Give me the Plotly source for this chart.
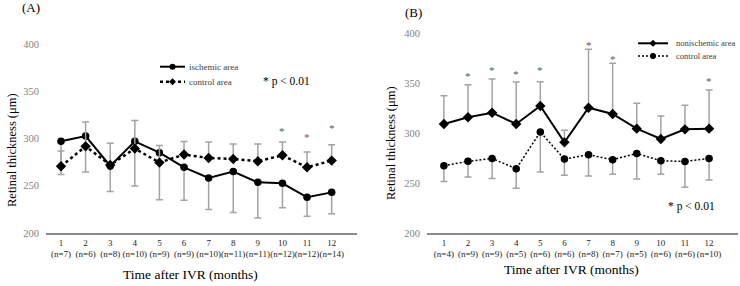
import plotly.graph_objects as go

# ---------------- data ----------------
months = [1, 2, 3, 4, 5, 6, 7, 8, 9, 10, 11, 12]

# Panel A
n_a = [7, 6, 8, 10, 9, 9, 10, 11, 11, 12, 12, 14]
ischemic_mean = [297, 302.6, 271, 297, 285, 269.5, 258.2, 265, 253.6, 252.6, 237.8, 243]
ischemic_sd = [35, 38, 27, 47.3, 49.7, 34.9, 33.2, 43.4, 37.7, 25.8, 20.1, 22.5]
control_a_mean = [270.6, 291.7, 272, 289.3, 274.5, 283, 279.4, 278.3, 275.9, 282.2, 269.5, 276.6]
control_a_sd = [16.2, 25.8, 23, 29.7, 18, 13.7, 16.9, 15.9, 18.3, 14.1, 16.2, 16.9]
sig_a_months = [10, 11, 12]
sig_a_y = [309.7, 303.4, 313]

# Panel B
n_b = [4, 9, 9, 5, 6, 6, 8, 7, 5, 6, 6, 10]
nonisch_mean = [309.2, 315.9, 320.5, 309.2, 327.2, 290.8, 325.5, 319.2, 304.5, 294.1, 303.8, 304.5]
nonisch_sd = [28.3, 32.6, 33.7, 42, 24.3, 12.1, 58.5, 50.8, 25.4, 23.1, 24.1, 38.7]
control_b_mean = [267.3, 271.8, 274.6, 264.4, 301.2, 274, 278.4, 273.4, 279.6, 272.4, 271.6, 274.6]
control_b_sd = [15.6, 15.8, 20, 19.5, 40.2, 16.2, 21.3, 14.6, 25.5, 13.6, 25.8, 21.5]
sig_b_months = [2, 3, 4, 5, 7, 8, 12]
sig_b_y = [358.9, 365.5, 361.5, 365.5, 390, 376, 354]

y_ticks = [200, 250, 300, 350, 400]

# ---------------- styling ----------------
W, H = 740, 286
FONT = "Liberation Serif"
ERR_COLOR = "#a3a3a3"
zeros = [0] * len(months)


def px(x):
    return x / W


def py(y):
    return 1 - y / H


def ticktext(ns):
    return [f"{m}<br>(n={n})" for m, n in zip(months, ns)]


fig = go.Figure()

# Panel A traces
fig.add_trace(go.Scatter(
    x=months, y=ischemic_mean, mode="lines+markers", name="ischemic area",
    line=dict(color="black", width=2),
    marker=dict(symbol="circle", size=7.5, color="black"),
    error_y=dict(type="data", symmetric=False, array=zeros, arrayminus=ischemic_sd,
                 color=ERR_COLOR, thickness=1.5, width=3.5),
    xaxis="x", yaxis="y", showlegend=False))
fig.add_trace(go.Scatter(
    x=months, y=control_a_mean, mode="lines+markers", name="control area",
    line=dict(color="black", width=2.5, dash="dot"),
    marker=dict(symbol="diamond", size=8, color="black"),
    error_y=dict(type="data", symmetric=False, array=control_a_sd, arrayminus=zeros,
                 color=ERR_COLOR, thickness=1.5, width=3.5),
    xaxis="x", yaxis="y", showlegend=False))

# Panel B traces
fig.add_trace(go.Scatter(
    x=months, y=nonisch_mean, mode="lines+markers", name="nonischemic area",
    line=dict(color="black", width=2),
    marker=dict(symbol="diamond", size=8, color="black"),
    error_y=dict(type="data", symmetric=False, array=nonisch_sd, arrayminus=zeros,
                 color=ERR_COLOR, thickness=1.5, width=3.5),
    xaxis="x2", yaxis="y2", showlegend=False))
fig.add_trace(go.Scatter(
    x=months, y=control_b_mean, mode="lines+markers", name="control area",
    line=dict(color="black", width=1.5, dash="2px,2px"),
    marker=dict(symbol="circle", size=7.5, color="black"),
    error_y=dict(type="data", symmetric=False, array=zeros, arrayminus=control_b_sd,
                 color=ERR_COLOR, thickness=1.5, width=3.5),
    xaxis="x2", yaxis="y2", showlegend=False))

xcommon = dict(tickmode="array", tickvals=months, showline=True, linecolor="#8c8c8c",
               linewidth=1.5, ticks="", showgrid=False, zeroline=False, tickangle=0,
               automargin=False,
               tickfont=dict(family=FONT, size=9, color="#262626"))
ycommon = dict(tickmode="array", tickvals=y_ticks, range=[200, 400], showline=False,
               ticks="", showgrid=False, zeroline=False, ticklabelstandoff=6,
               automargin=False,
               tickfont=dict(family=FONT, size=10.5, color="#7f7f7f"))

fig.update_layout(
    width=W, height=H, margin=dict(l=0, r=0, t=0, b=0, autoexpand=False),
    paper_bgcolor="white", plot_bgcolor="white",
    xaxis=dict(domain=[px(46), px(357)], range=[0.39, 13.03], anchor="y",
               ticktext=ticktext(n_a), **xcommon),
    yaxis=dict(domain=[py(233), py(44)], anchor="x", **ycommon),
    xaxis2=dict(domain=[px(427), px(738)], range=[0.3, 13.2], anchor="y2",
                ticktext=ticktext(n_b), **xcommon),
    yaxis2=dict(domain=[py(233), py(33.3)], anchor="x2", **ycommon),
)

ann = []


def paper_text(text, xc, yc, size, color="black", xanchor="center", angle=0):
    ann.append(dict(text=text, x=px(xc), y=py(yc), xref="paper", yref="paper",
                    xanchor=xanchor, yanchor="middle", showarrow=False, textangle=angle,
                    font=dict(family=FONT, size=size, color=color)))


# panel letters
paper_text("(A)", 30.5, 7, 13)
paper_text("(B)", 413, 12, 13)
# axis titles
paper_text("Time after IVR (months)", 190.5, 274.5, 13.5)
paper_text("Time after IVR (months)", 571.5, 269, 13.5)
paper_text("Retinal thickness (μm)", 12, 150, 12.5, angle=-90)
paper_text("Retinal thickness (μm)", 391, 143, 12.5, angle=-90)
# p-value notes
paper_text("* p < 0.01", 286, 82, 11.5)
paper_text("* p < 0.01", 691.5, 206, 11.5)

# significance asterisks
for m, yv in zip(sig_a_months, sig_a_y):
    ann.append(dict(text="*", x=m, y=yv, xref="x", yref="y", showarrow=False, yshift=-2,
                    xanchor="center", yanchor="middle",
                    font=dict(family=FONT, size=11, color="#595959")))
for m, yv in zip(sig_b_months, sig_b_y):
    ann.append(dict(text="*", x=m, y=yv, xref="x2", yref="y2", showarrow=False, yshift=-2,
                    xanchor="center", yanchor="middle",
                    font=dict(family=FONT, size=11, color="#595959")))

# manual legends (line samples + markers + labels)
shapes = []


def legend_item(x0, x1, yc, label, dash, lw, marker, tx, size):
    shapes.append(dict(type="line", xref="paper", yref="paper", x0=px(x0), x1=px(x1),
                       y0=py(yc), y1=py(yc), line=dict(color="black", width=lw, dash=dash)))
    cx = (x0 + x1) / 2
    r = 3.0
    if marker == "circle":
        shapes.append(dict(type="circle", xref="paper", yref="paper",
                           x0=px(cx - r), x1=px(cx + r), y0=py(yc + r), y1=py(yc - r),
                           fillcolor="black", line=dict(width=0)))
    else:
        d = 3.5
        path = (f"M {px(cx - d)} {py(yc)} L {px(cx)} {py(yc - d)} "
                f"L {px(cx + d)} {py(yc)} L {px(cx)} {py(yc + d)} Z")
        shapes.append(dict(type="path", xref="paper", yref="paper", path=path,
                           fillcolor="black", line=dict(width=0)))
    paper_text(label, tx, yc, size, color="#404040", xanchor="left")


legend_item(160, 185, 66.7, "ischemic area", "solid", 2, "circle", 187, 9)
legend_item(160, 185, 81.7, "control area", "dot", 2.5, "diamond", 187, 9)
legend_item(638, 668, 43.3, "nonischemic area", "solid", 2, "diamond", 674, 8.5)
legend_item(638, 668, 56, "control area", "2px,2px", 1.5, "circle", 674, 8.5)

fig.update_layout(annotations=ann, shapes=shapes)

fig.write_html(
    "out.html",
    config={"displayModeBar": False},
    post_script="document.body.style.margin='0';document.body.style.overflow='hidden';",
)
